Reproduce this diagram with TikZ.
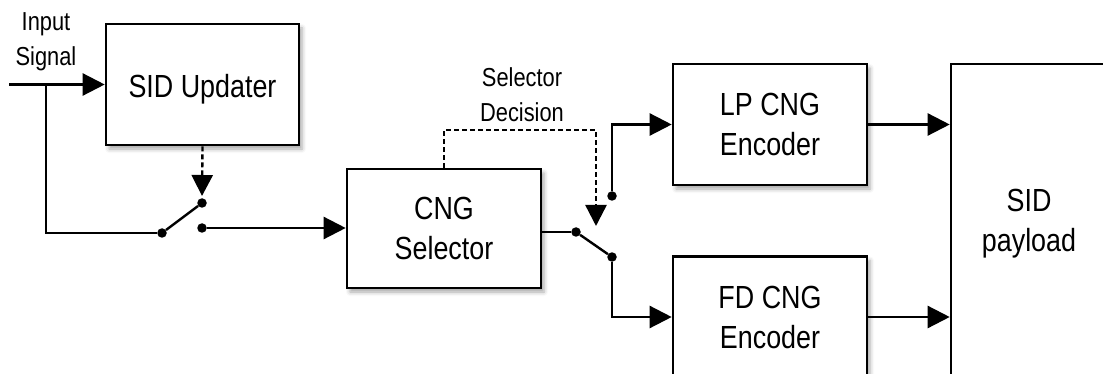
\documentclass[tikz,border=0pt]{standalone}
\usepackage{fontspec}
\setmainfont{Liberation Sans}[FakeStretch=0.84]
\usetikzlibrary{arrows.meta,shadows.blur}
\begin{document}
\begin{tikzpicture}[x=1pt,y=-1pt,
  blk/.style={draw,line width=2.6pt,fill=white,inner sep=0pt,align=center,
    font=\fontsize{32}{40}\selectfont,
    blur shadow={shadow xshift=3pt,shadow yshift=-4pt,shadow opacity=35,shadow blur radius=4pt}},
  bigblk/.style={draw,line width=2.6pt,fill=white,inner sep=0pt,align=center,
    font=\fontsize{32}{40}\selectfont},
  lbl/.style={align=center,inner sep=0pt,font=\fontsize{26}{35}\selectfont},
  wire/.style={line width=2.4pt},
  arr/.style={line width=2.4pt,-{Triangle[length=22pt,width=22pt]}},
  dasharr/.style={line width=2.4pt,dash pattern=on 5pt off 3pt,-{Triangle[length=21pt,width=21pt]}},
  dot/.style={circle,fill=black,inner sep=0pt,minimum size=9.5pt}]
\useasboundingbox (0,0) rectangle (1103,374);
\clip (0,0) rectangle (1103,374);
% blocks
\node[blk,minimum width=193pt,minimum height=121pt,text height=26pt,text depth=0pt] (upd) at (202.5,84.5) {SID Updater};
\node[blk,minimum width=194pt,minimum height=119pt] (sel) at (444,228.5) {CNG\\Selector};
\node[blk,minimum width=194pt,minimum height=121pt] (lp) at (770,124.5) {LP CNG\\Encoder};
\node[blk,minimum width=194pt,minimum height=121pt] (fd) at (770,317) {FD CNG\\Encoder};
\node[bigblk,minimum width=156pt,minimum height=320pt] (sid) at (1029,224) {SID\\payload};
% labels
\node[lbl] (insig) at (46,42) {Input\\Signal};
\node[lbl] (seldec) at (522,95) {Selector\\Decision};
% input and first switch
\coordinate (in) at (9,84.5);
\coordinate (br) at (46,84.5);
\node[dot] (s1p) at (162,233) {};
\node[dot] (s1u) at (202,203) {};
\node[dot] (s1l) at (202,228) {};
\coordinate (t1) at (202,196);
\draw[arr] (in) -- (upd.west);
\draw[wire] (br) |- (s1p);
\draw[wire] (s1p) -- (s1u);
\draw[dasharr] (upd.south) -- (t1);
\draw[arr] (s1l) -- (s1l -| sel.west);
% selector decision and second switch
\node[dot] (s2p) at (576,232) {};
\node[dot] (s2l) at (612,257) {};
\node[dot] (s2u) at (612,196) {};
\coordinate (d2) at (596,130);
\coordinate (t2) at (596,226);
\draw[dasharr] (sel.north) |- (d2) -- (t2);
\draw[wire] (sel.east |- s2p) -- (s2p);
\draw[wire] (s2p) -- (s2l);
\draw[arr] (s2u) |- (lp.west);
\draw[arr] (s2l) |- (fd.west);
% outputs
\draw[arr] (lp.east) -- (lp.east -| sid.west);
\draw[arr] (fd.east) -- (fd.east -| sid.west);
\end{tikzpicture}
\end{document}
